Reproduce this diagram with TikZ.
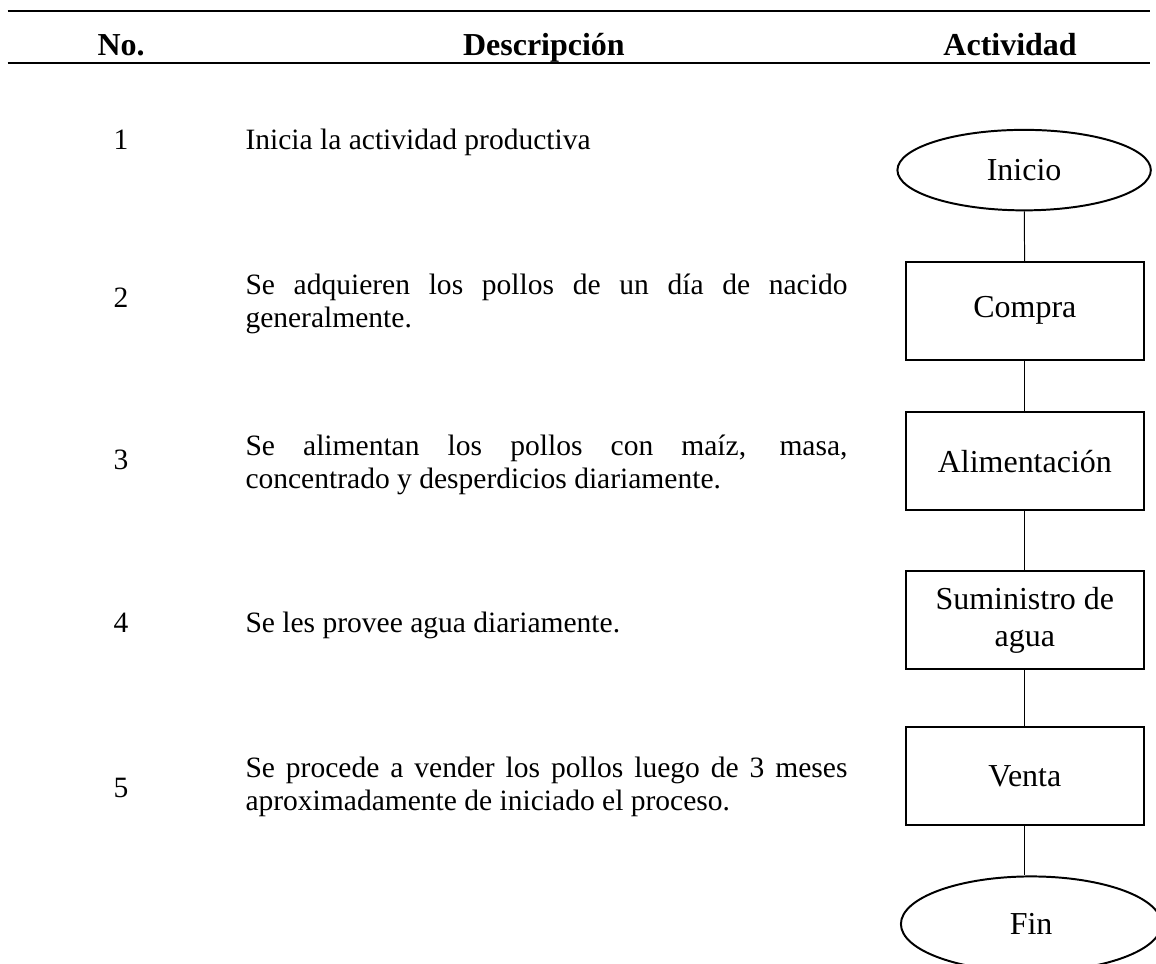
\documentclass[tikz,border=0pt]{standalone}
\usepackage{fontspec}
\setmainfont{Liberation Serif}
\usetikzlibrary{shapes.geometric}
\hyphenpenalty=10000
\exhyphenpenalty=10000

\begin{document}
\begin{tikzpicture}[
  every node/.style={font=\fontsize{12pt}{13.5pt}\selectfont},
  head/.style={anchor=base,inner sep=0pt,font=\fontsize{13pt}{15pt}\selectfont\bfseries},
  num/.style={anchor=base,inner sep=0pt},
  desc/.style={anchor=base west,inner sep=0pt,text width=8.6cm,align=justify},
  stepbox/.style={draw,line width=0.8pt,minimum width=3.4cm,minimum height=1.4cm,inner sep=2pt,
    align=center,font=\fontsize{13pt}{15pt}\selectfont},
  endpoint/.style={draw,ellipse,line width=0.8pt,minimum width=3.62cm,minimum height=1.15cm,
    inner sep=0pt,font=\fontsize{13pt}{15pt}\selectfont}
]
% Page size of the table
\useasboundingbox (0,0) rectangle (16.514,-13.771);
% Rules above and below the header
\draw[line width=0.8pt] (0.11,-0.16) -- (16.43,-0.16);
\draw[line width=0.8pt] (0.11,-0.90) -- (16.43,-0.90);
% Header
\node[head] (hno) at (1.73,-0.79) {No.};
\node[head] (hdesc) at (7.77,-0.79) {Descripción};
\node[head] (hact) at (14.43,-0.79) {Actividad};
% Numbers
\node[num] (n1) at (1.73,-2.14) {1};
\node[num] (n2) at (1.73,-4.39) {2};
\node[num] (n3) at (1.73,-6.71) {3};
\node[num] (n4) at (1.73,-9.03) {4};
\node[num] (n5) at (1.73,-11.39) {5};
% Descriptions
\node[desc] (d1) at (3.5,-2.14) {Inicia la actividad productiva};
\node[desc] (d2) at (3.5,-4.21) {Se adquieren los pollos de un día de nacido generalmente.};
\node[desc] (d3) at (3.5,-6.50) {Se alimentan los pollos con maíz, masa, concentrado y desperdicios diariamente.};
\node[desc] (d4) at (3.5,-9.04) {Se les provee agua diariamente.};
\node[desc] (d5) at (3.5,-11.11) {Se procede a vender los pollos luego de 3 meses aproximadamente de iniciado el proceso.};
% Flow of activities
\node[endpoint] (inicio) at (14.63,-2.43) {Inicio};
\node[stepbox] (compra) at (14.64,-4.44) {Compra};
\node[stepbox] (alim) at (14.64,-6.59) {Alimentación};
\node[stepbox] (sumin) at (14.64,-8.86) {Suministro de\\agua};
\node[stepbox] (venta) at (14.64,-11.09) {Venta};
\node[endpoint,minimum width=3.72cm,minimum height=1.36cm] (fin) at (14.73,-13.2) {Fin};
% Connectors
\draw (inicio) -- (compra);
\draw (compra) -- (alim);
\draw (alim) -- (sumin);
\draw (sumin) -- (venta);
\draw (venta) -- (venta |- fin.north);
\end{tikzpicture}
\end{document}
